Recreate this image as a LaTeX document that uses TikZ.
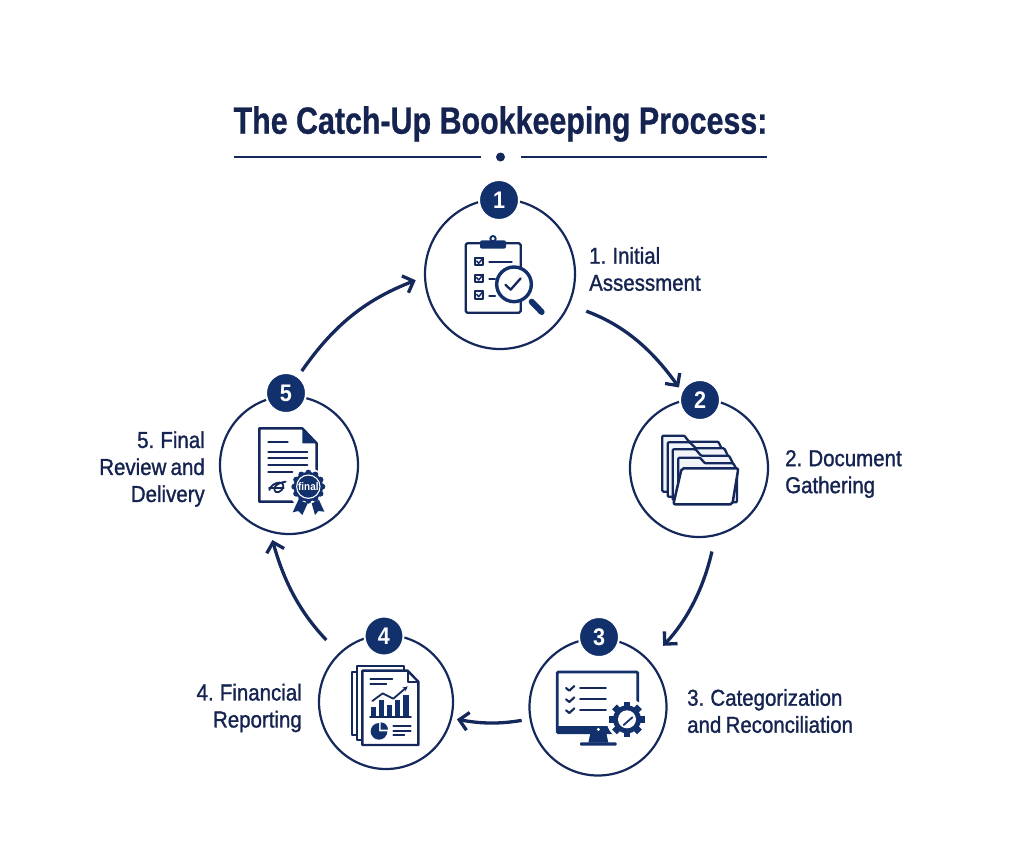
\documentclass[tikz,border=0pt]{standalone}
\usepackage{fontspec}
\usetikzlibrary{arrows.meta}
\setmainfont{Liberation Sans}
\newfontfamily\titlefont[FakeStretch=.8,FakeBold=.6]{Liberation Sans Bold}
\newfontfamily\labelfont[FakeStretch=.89,FakeBold=1.2,WordSpace=.75]{Liberation Sans}
\newfontfamily\numfont[FakeStretch=.9]{Liberation Sans Bold}
\definecolor{navy}{HTML}{12306B}
\definecolor{ink}{HTML}{14285C}
\definecolor{titleink}{HTML}{14234F}
\definecolor{tint}{HTML}{F1F5FA}
\tikzset{
  ring/.style={circle,draw=ink,line width=2.2pt,minimum size=#1,inner sep=0pt,outer sep=0pt},
  badge/.style={circle,fill=navy,draw=white,line width=2pt,minimum size=#1,inner sep=0pt,outer sep=0pt,text=white,font=\numfont\fontsize{24}{24}\selectfont},
  steplabel/.style={text=titleink,font=\labelfont\fontsize{23}{27}\selectfont,inner sep=0pt},
  flow/.style={draw=ink,line width=3.3pt,-{Straight Barb[length=9pt,width=18pt,line width=3.3pt]}},
  iconline/.style={draw=ink,line width=2.3pt,line cap=round,line join=round},
  iconthin/.style={draw=ink,line width=1.8pt,line cap=round,line join=round},
  icon/.style={shift={#1},x=.33333pt,y=-.33333pt}
}
\begin{document}
\begin{tikzpicture}[x=1pt,y=-1pt]
\useasboundingbox (0,0) rectangle (1024,865);
\fill[white] (0,0) rectangle (1024,865);

% title
\node[text=titleink,font=\titlefont\fontsize{38}{38}\selectfont,inner sep=0pt] (title) at (500.5,124) {The Catch-Up Bookkeeping Process:};
\coordinate (ruleA) at (234,157); \coordinate (ruleB) at (481,157);
\coordinate (ruleC) at (521,157); \coordinate (ruleD) at (767,157);
\draw[ink,line width=1.5pt] (ruleA) -- (ruleB);
\draw[ink,line width=1.5pt] (ruleC) -- (ruleD);
\fill[ink] (500.5,157) circle (4.5);

% rings
\node[ring=150pt] (c1) at (500,274) {};
\node[ring=138pt] (c2) at (699,468) {};
\node[ring=137pt] (c3) at (598,707) {};
\node[ring=134pt] (c4) at (386,702) {};
\node[ring=138pt] (c5) at (289,465) {};

% badges
\node[badge=40pt] (b1) at (499,200) {1};
\node[badge=40pt] (b2) at (700,400) {2};
\node[badge=40pt] (b3) at (599,637) {3};
\node[badge=39pt] (b4) at (384,636) {4};
\node[badge=40pt] (b5) at (286,393) {5};

% connectors
\draw[flow,shorten <=19pt,shorten >=5pt] (c1.-24) to[bend left=17] (b2.155);
\draw[flow,shorten <=17pt,shorten >=21pt] (c2.-76) to[bend left=15] (c3.42);
\draw[flow,shorten <=9pt,shorten >=6pt] (c3.190) to[bend left=10] (c4.-14);
\draw[flow,shorten <=19pt,shorten >=9pt] (c4.134) to[bend left=14] (c5.-106);
\draw[flow,shorten <=7pt,shorten >=10pt] (b5.54) to[bend left=17] (c1.182);

% labels
\node[steplabel,anchor=west,align=left] (l1) at (589,269) {1. Initial\\Assessment};
\node[steplabel,anchor=west,align=left] (l2) at (785,474) {2. Document\\Gathering};
\node[steplabel,anchor=west,align=left] (l3) at (687,711) {3. Categorization\\and Reconciliation};
\node[steplabel,anchor=east,align=right] (l4) at (302,708) {4. Financial\\Reporting};
\node[steplabel,anchor=east,align=right] (l5) at (205,469) {5. Final\\Review and\\Delivery};

% icon 1: clipboard and magnifier
\begin{scope}[icon={(420,180)}]
  \draw[iconline,rounded corners=1.5pt] (137,190) rectangle (302,398);
  \fill[navy,rounded corners=2pt] (180,181) rectangle (258,206);
  \draw[navy,fill=white,line width=1.9pt] (219,176) circle (8);
  \foreach \yy in {245,295,345}{
    \draw[iconline,line width=1.9pt,fill=tint] (165,\yy-11) rectangle (188,\yy+11);
    \draw[iconthin,line width=1.4pt] (170,\yy-2) -- (176,\yy+5) -- (190,\yy-12);
  }
  \draw[iconline] (208,247) -- (275,247);
  \draw[iconline] (208,297) -- (225,297);
  \draw[iconline] (208,347) -- (225,347);
  \draw[navy,fill=white,line width=3.4pt] (282,313) circle (52);
  \draw[navy,line width=6pt,line cap=round] (335,365) -- (365,396);
  \draw[iconline,line width=2.3pt] (256,314) -- (272,329) -- (302,295);
\end{scope}

% icon 2: folders
\begin{scope}[icon={(625,385)}]
  \tikzset{folder/.style={iconline,fill=tint,rounded corners=1pt}}
  \draw[folder] (112,320) -- (112,152) -- (178,152) -- (192,170) -- (280,170) -- (292,195) -- (292,320) -- cycle;
  \draw[folder] (128,335) -- (128,172) -- (195,172) -- (212,190) -- (298,190) -- (310,215) -- (310,335) -- cycle;
  \draw[folder] (143,345) -- (143,193) -- (212,193) -- (228,212) -- (312,212) -- (324,235) -- (324,345) -- cycle;
  \draw[folder] (160,352) -- (160,218) -- (225,218) -- (240,235) -- (325,235) -- (336,255) -- (336,352) -- cycle;
  \draw[iconline,fill=white,rounded corners=2pt,line width=2.5pt] (170,250) -- (340,250) -- (322,358) -- (145,358) -- cycle;
\end{scope}

% icon 3: monitor and gear
\begin{scope}[icon={(525,620)}]
  \draw[navy,line width=2.8pt,rounded corners=1pt] (97,156) rectangle (338,338);
  \fill[navy] (97,318) rectangle (338,340);
  \fill[white] (220,328) circle (5);
  \fill[navy] (196,340) -- (244,340) -- (250,368) -- (190,368) -- cycle;
  \fill[navy,rounded corners=1pt] (165,367) rectangle (275,377);
  \foreach \yy in {204,238,271}{
    \draw[iconline,line width=2.1pt] (123,\yy) -- (133,\yy+8) -- (148,\yy-6);
    \draw[iconline,line width=1.7pt] (165,\yy) -- (243,\yy);
  }
  \fill[white] (306,298) circle (62);
  \foreach \aa in {0,45,...,315}
    \fill[navy,rotate around={\aa:(306,298)}] (296,245) rectangle (316,270);
  \fill[navy] (306,298) circle (42);
  \fill[white] (306,298) circle (27);
  \draw[navy,line width=1.8pt,line cap=round] (296,315) -- (322,292);
\end{scope}

% icon 4: report
\begin{scope}[icon={(315,620)}]
  \draw[iconline,line width=1.9pt] (110,155) rectangle (200,345);
  \draw[iconline,fill=white,line width=2pt] (125,137) -- (268,137) -- (268,360) -- (125,360) -- cycle;
  \draw[iconline,fill=white,line width=2.4pt] (142,152) -- (278,152) -- (310,185) -- (310,375) -- (142,375) -- cycle;
  \draw[iconthin] (278,152) -- (278,185) -- (310,185);
  \draw[iconthin] (166,177) -- (232,177);
  \draw[iconthin] (166,192) -- (214,192);
  \fill[navy] (169,262) rectangle (183,288);
  \fill[navy] (192,240) rectangle (207,288);
  \fill[navy] (217,256) rectangle (232,288);
  \fill[navy] (241,240) rectangle (256,288);
  \fill[navy] (265,224) rectangle (281,288);
  \draw[iconthin] (165,291) -- (288,291);
  \draw[iconthin,-{Stealth[length=5pt,width=5pt]}] (172,243) -- (203,220) -- (235,236) -- (278,199);
  \fill[navy] (192,334) -- (217,334) arc[start angle=0,end angle=270,radius=25] -- cycle;
  \fill[navy] (197,329) -- (197,307) arc[start angle=-90,end angle=0,radius=22] -- cycle;
  \draw[iconthin] (235,318) -- (287,318);
  \draw[iconthin] (235,332) -- (287,332);
  \draw[iconthin] (235,346) -- (268,346);
\end{scope}

% icon 5: document with seal
\begin{scope}[icon={(215,375)}]
  \draw[iconline,line width=2.4pt] (235,380) -- (133,380) -- (133,160) -- (262,160) -- (305,205) -- (305,300);
  \fill[navy] (262,160) -- (305,205) -- (262,205) -- cycle;
  \draw[iconline] (160,200) -- (218,200);
  \draw[iconline] (160,230) -- (277,230);
  \draw[iconline] (160,250) -- (277,250);
  \draw[iconline] (160,270) -- (277,270);
  \draw[iconline] (160,292) -- (232,292);
  \draw[iconline,line width=1.8pt] (163,345) .. controls (170,322) and (205,315) .. (205,333) .. controls (205,350) and (178,362) .. (178,340) .. controls (180,330) and (195,322) .. (212,320);
  \draw[iconline,line width=1.8pt] (162,340) -- (206,340);
  \fill[white] (280,340) circle (60);
  \fill[navy] (250,375) -- (278,385) -- (262,420) -- (250,408) -- (233,412) -- cycle;
  \fill[navy] (290,385) -- (312,375) -- (328,410) -- (310,408) -- (300,420) -- cycle;
  \foreach \aa in {0,30,...,330}
    \fill[navy] (280,335) ++(\aa:42) circle (9);
  \fill[navy] (280,335) circle (44);
  \draw[white,line width=1.1pt] (280,335) circle (35);
  \node[text=white,font=\numfont\fontsize{11}{11}\selectfont,inner sep=0pt] (sealtext) at (280,335) {final};
\end{scope}
\end{tikzpicture}
\end{document}
